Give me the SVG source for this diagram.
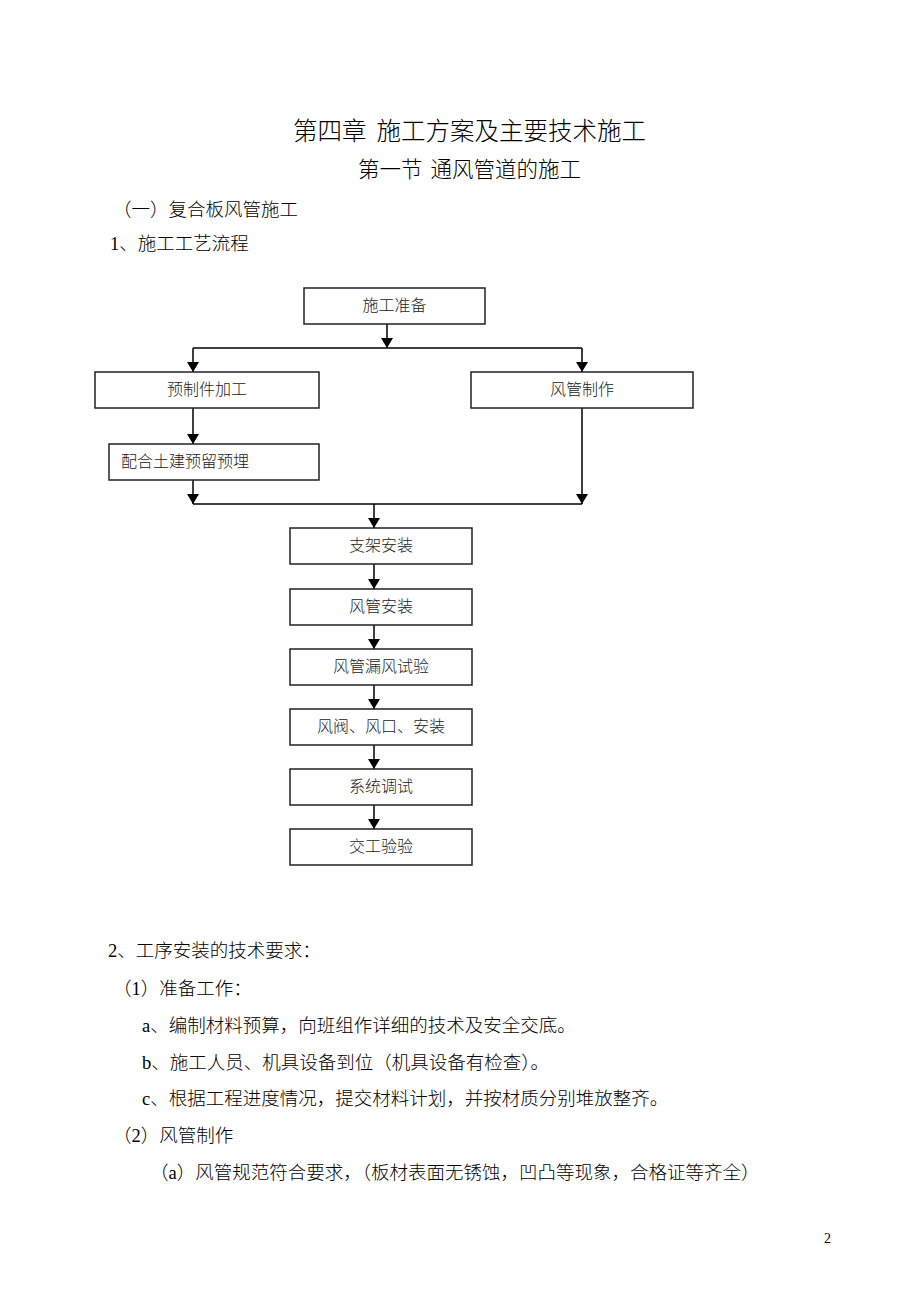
<svg xmlns="http://www.w3.org/2000/svg" width="920" height="1302" viewBox="0 0 920 1302">
<defs>
<style>
.t{font-family:"Liberation Serif","Noto Sans CJK SC",serif;fill:#000;font-weight:300}
.b{fill:#fff;stroke:#222;stroke-width:1.5}
.bt{font-family:"Liberation Serif","Noto Sans CJK SC",serif;font-size:16px;fill:#222;font-weight:300}
.m{text-anchor:middle}
.c{fill:none;stroke:#000;stroke-width:1.5}
</style>
<marker id="ah" viewBox="0 0 10 12" refX="10" refY="6" markerWidth="10" markerHeight="12" markerUnits="userSpaceOnUse" orient="auto">
<path d="M0,0 L10,6 L0,12 Z" fill="#000"/>
</marker>
</defs>
<rect width="920" height="1302" fill="#fff"/>
<text class="t" x="293" y="140" font-size="24.5">第四章<tspan dx="10">施工方案及主要技术施工</tspan></text>
<text class="t" x="358" y="177" font-size="21.5">第一节<tspan dx="8">通风管道的施工</tspan></text>
<text class="t" x="113" y="216" font-size="18.5">（一）复合板风管施工</text>
<text class="t" x="110" y="250" font-size="18.5">1、施工工艺流程</text>

<g id="connectors">
<line class="c" x1="387" y1="324" x2="387" y2="348" marker-end="url(#ah)"/>
<polyline class="c" points="193,348 582,348"/>
<line class="c" x1="193" y1="348" x2="193" y2="372" marker-end="url(#ah)"/>
<line class="c" x1="582" y1="348" x2="582" y2="372" marker-end="url(#ah)"/>
<line class="c" x1="193" y1="408" x2="193" y2="444" marker-end="url(#ah)"/>
<line class="c" x1="193" y1="480" x2="193" y2="504" marker-end="url(#ah)"/>
<line class="c" x1="582" y1="408" x2="582" y2="504" marker-end="url(#ah)"/>
<polyline class="c" points="193,504 582,504"/>
<line class="c" x1="374" y1="504" x2="374" y2="528" marker-end="url(#ah)"/>
<line class="c" x1="374" y1="564" x2="374" y2="589" marker-end="url(#ah)"/>
<line class="c" x1="374" y1="625" x2="374" y2="649" marker-end="url(#ah)"/>
<line class="c" x1="374" y1="685" x2="374" y2="709" marker-end="url(#ah)"/>
<line class="c" x1="374" y1="745" x2="374" y2="769" marker-end="url(#ah)"/>
<line class="c" x1="374" y1="805" x2="374" y2="829" marker-end="url(#ah)"/>
</g>

<g id="n1"><rect class="b" x="304" y="288" width="181" height="36"/><text class="bt m" x="394.5" y="311">施工准备</text></g>
<g id="n2"><rect class="b" x="95" y="372" width="224" height="36"/><text class="bt m" x="207" y="395">预制件加工</text></g>
<g id="n3"><rect class="b" x="471" y="372" width="222" height="36"/><text class="bt m" x="582" y="395">风管制作</text></g>
<g id="n4"><rect class="b" x="109" y="444" width="210" height="36"/><text class="bt" x="121" y="467">配合土建预留预埋</text></g>
<g id="n5"><rect class="b" x="290" y="528" width="182" height="36"/><text class="bt m" x="381" y="551">支架安装</text></g>
<g id="n6"><rect class="b" x="290" y="589" width="182" height="36"/><text class="bt m" x="381" y="612">风管安装</text></g>
<g id="n7"><rect class="b" x="290" y="649" width="182" height="36"/><text class="bt m" x="381" y="672">风管漏风试验</text></g>
<g id="n8"><rect class="b" x="290" y="709" width="182" height="36"/><text class="bt m" x="381" y="732">风阀、风口、安装</text></g>
<g id="n9"><rect class="b" x="290" y="769" width="182" height="36"/><text class="bt m" x="381" y="792">系统调试</text></g>
<g id="n10"><rect class="b" x="290" y="829" width="182" height="36"/><text class="bt m" x="381" y="852">交工验验</text></g>

<text class="t" x="108" y="957" font-size="18.5">2、工序安装的技术要求：</text>
<text class="t" x="113" y="995" font-size="18.5">（1）准备工作：</text>
<text class="t" x="142" y="1032" font-size="18.5">a、编制材料预算，向班组作详细的技术及安全交底。</text>
<text class="t" x="142" y="1069" font-size="18.5">b、施工人员、机具设备到位（机具设备有检查）。</text>
<text class="t" x="142" y="1105" font-size="18.5">c、根据工程进度情况，提交材料计划，并按材质分别堆放整齐。</text>
<text class="t" x="113" y="1142" font-size="18.5">（2）风管制作</text>
<text class="t" x="150" y="1179" font-size="18.5">（a）风管规范符合要求，（板材表面无锈蚀，凹凸等现象，合格证等齐全）</text>
<text class="t" x="824" y="1243" font-size="14">2</text>
</svg>
